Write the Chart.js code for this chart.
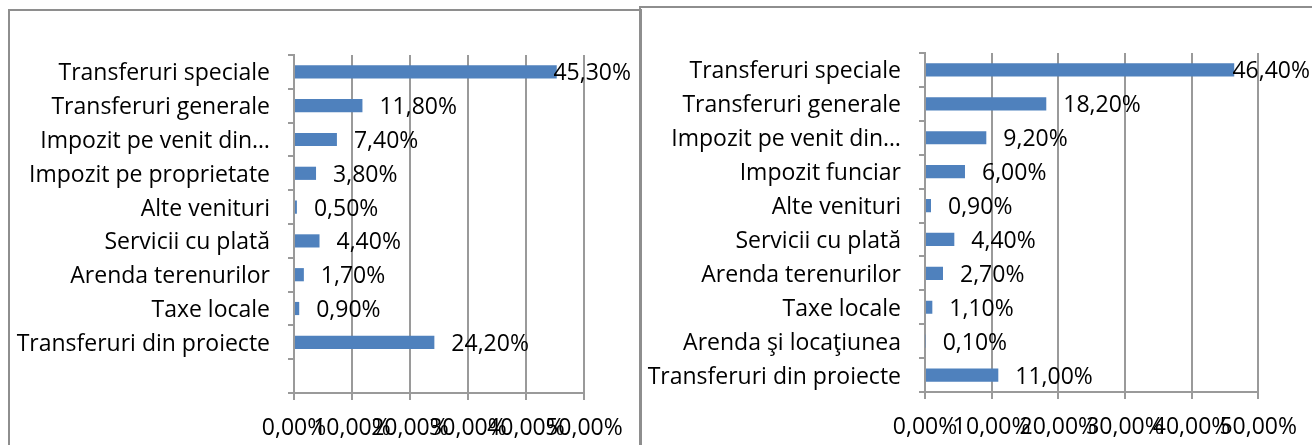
<!DOCTYPE html>
<html>
<head>
<meta charset="utf-8">
<script src="https://cdn.jsdelivr.net/npm/chart.js@4.4.1/dist/chart.umd.min.js"></script>
<style>
  html, body { margin: 0; padding: 0; background: #fff; overflow: hidden; }
  body { width: 1312px; height: 445px; position: relative; }
  .frame { position: absolute; box-sizing: border-box; border: 2px solid #8e8e8e; border-bottom: none; }
  #frameL { left: 8px; top: 9px; width: 634px; height: 460px; }
  #frameR { left: 639px; top: 6px; width: 700px; height: 460px; border-right: none; }
  canvas { position: absolute; }
  #cL { left: 10px; top: 12px; }
  #cR { left: 642px; top: 9px; }
</style>
</head>
<body>
<div class="frame" id="frameL"></div>
<div class="frame" id="frameR"></div>
<canvas id="cL" width="628" height="433"></canvas>
<canvas id="cR" width="670" height="436"></canvas>
<script>
// ---- data ----
const categoriesLeft = [
  "Transferuri speciale",
  "Transferuri generale",
  "Impozit pe venit din…",
  "Impozit pe proprietate",
  "Alte venituri",
  "Servicii cu plată",
  "Arenda terenurilor",
  "Taxe locale",
  "Transferuri din proiecte",
  ""
];
const valuesLeft = [45.3, 11.8, 7.4, 3.8, 0.5, 4.4, 1.7, 0.9, 24.2, null];

const categoriesRight = [
  "Transferuri speciale",
  "Transferuri generale",
  "Impozit pe venit din…",
  "Impozit funciar",
  "Alte venituri",
  "Servicii cu plată",
  "Arenda terenurilor",
  "Taxe locale",
  "Arenda şi locaţiunea",
  "Transferuri din proiecte"
];
const valuesRight = [46.4, 18.2, 9.2, 6.0, 0.9, 4.4, 2.7, 1.1, 0.1, 11.0];

const axisMin = 0;
const axisMax = 50;
const axisStep = 10;

// ---- helpers ----
const FONT = "'Open Sans', Lato, sans-serif";
const FONT_SIZE = 23;
function pct(v) { return Number(v).toFixed(2).replace('.', ',') + '%'; }

const barLabels = {
  id: 'barLabels',
  afterDatasetsDraw(chart, args, opts) {
    const ctx = chart.ctx;
    ctx.save();
    ctx.font = FONT_SIZE + 'px ' + FONT;
    ctx.fillStyle = '#000';
    ctx.textBaseline = 'middle';
    ctx.textAlign = 'left';
    const meta = chart.getDatasetMeta(0);
    const data = chart.data.datasets[0].data;
    meta.data.forEach((el, i) => {
      const v = data[i];
      if (v === null || v === undefined) return;
      const t = pct(v);
      const w = ctx.measureText(t).width;
      let x = el.x + opts.gap;
      const maxX = chart.width - opts.edge - w;
      if (x > maxX) x = maxX;
      ctx.fillText(t, x, el.y + 2);
    });
    ctx.restore();
  }
};

function makeChart(id, cats, vals, yWidth, xHeight, padTop, padRight, edge) {
  return new Chart(document.getElementById(id), {
    type: 'bar',
    data: {
      labels: cats,
      datasets: [{
        data: vals,
        backgroundColor: '#4f81bd',
        borderWidth: 0,
        barPercentage: 0.39,
        categoryPercentage: 1.0
      }]
    },
    options: {
      indexAxis: 'y',
      responsive: false,
      animation: false,
      events: [],
      layout: { padding: { top: padTop, right: padRight, left: 0, bottom: 0 } },
      plugins: {
        legend: { display: false },
        tooltip: { enabled: false },
        barLabels: { gap: 17, edge: edge }
      },
      scales: {
        x: {
          min: axisMin,
          max: axisMax,
          ticks: {
            stepSize: axisStep,
            callback: (v) => pct(v),
            color: '#000',
            font: { family: FONT, size: FONT_SIZE },
            padding: 15,
            maxRotation: 0,
            autoSkip: false
          },
          grid: { color: '#9a9a9a', lineWidth: 2, tickLength: 7, tickColor: '#9a9a9a' },
          border: { color: '#9a9a9a', width: 2 },
          afterFit: (s) => { s.height = xHeight; }
        },
        y: {
          offset: true,
          ticks: {
            color: '#000',
            font: { family: FONT, size: FONT_SIZE },
            padding: 18,
            labelOffset: 2,
            autoSkip: false
          },
          grid: { offset: true, drawOnChartArea: false, tickLength: 6, color: '#9a9a9a', lineWidth: 2 },
          border: { color: '#9a9a9a', width: 2 },
          afterFit: (s) => { s.width = yWidth; }
        }
      }
    },
    plugins: [barLabels]
  });
}

makeChart('cL', categoriesLeft, valuesLeft, 284, 52, 43, 54, 7);
makeChart('cR', categoriesRight, valuesRight, 283, 53, 44, 48, 2);
</script>
</body>
</html>
